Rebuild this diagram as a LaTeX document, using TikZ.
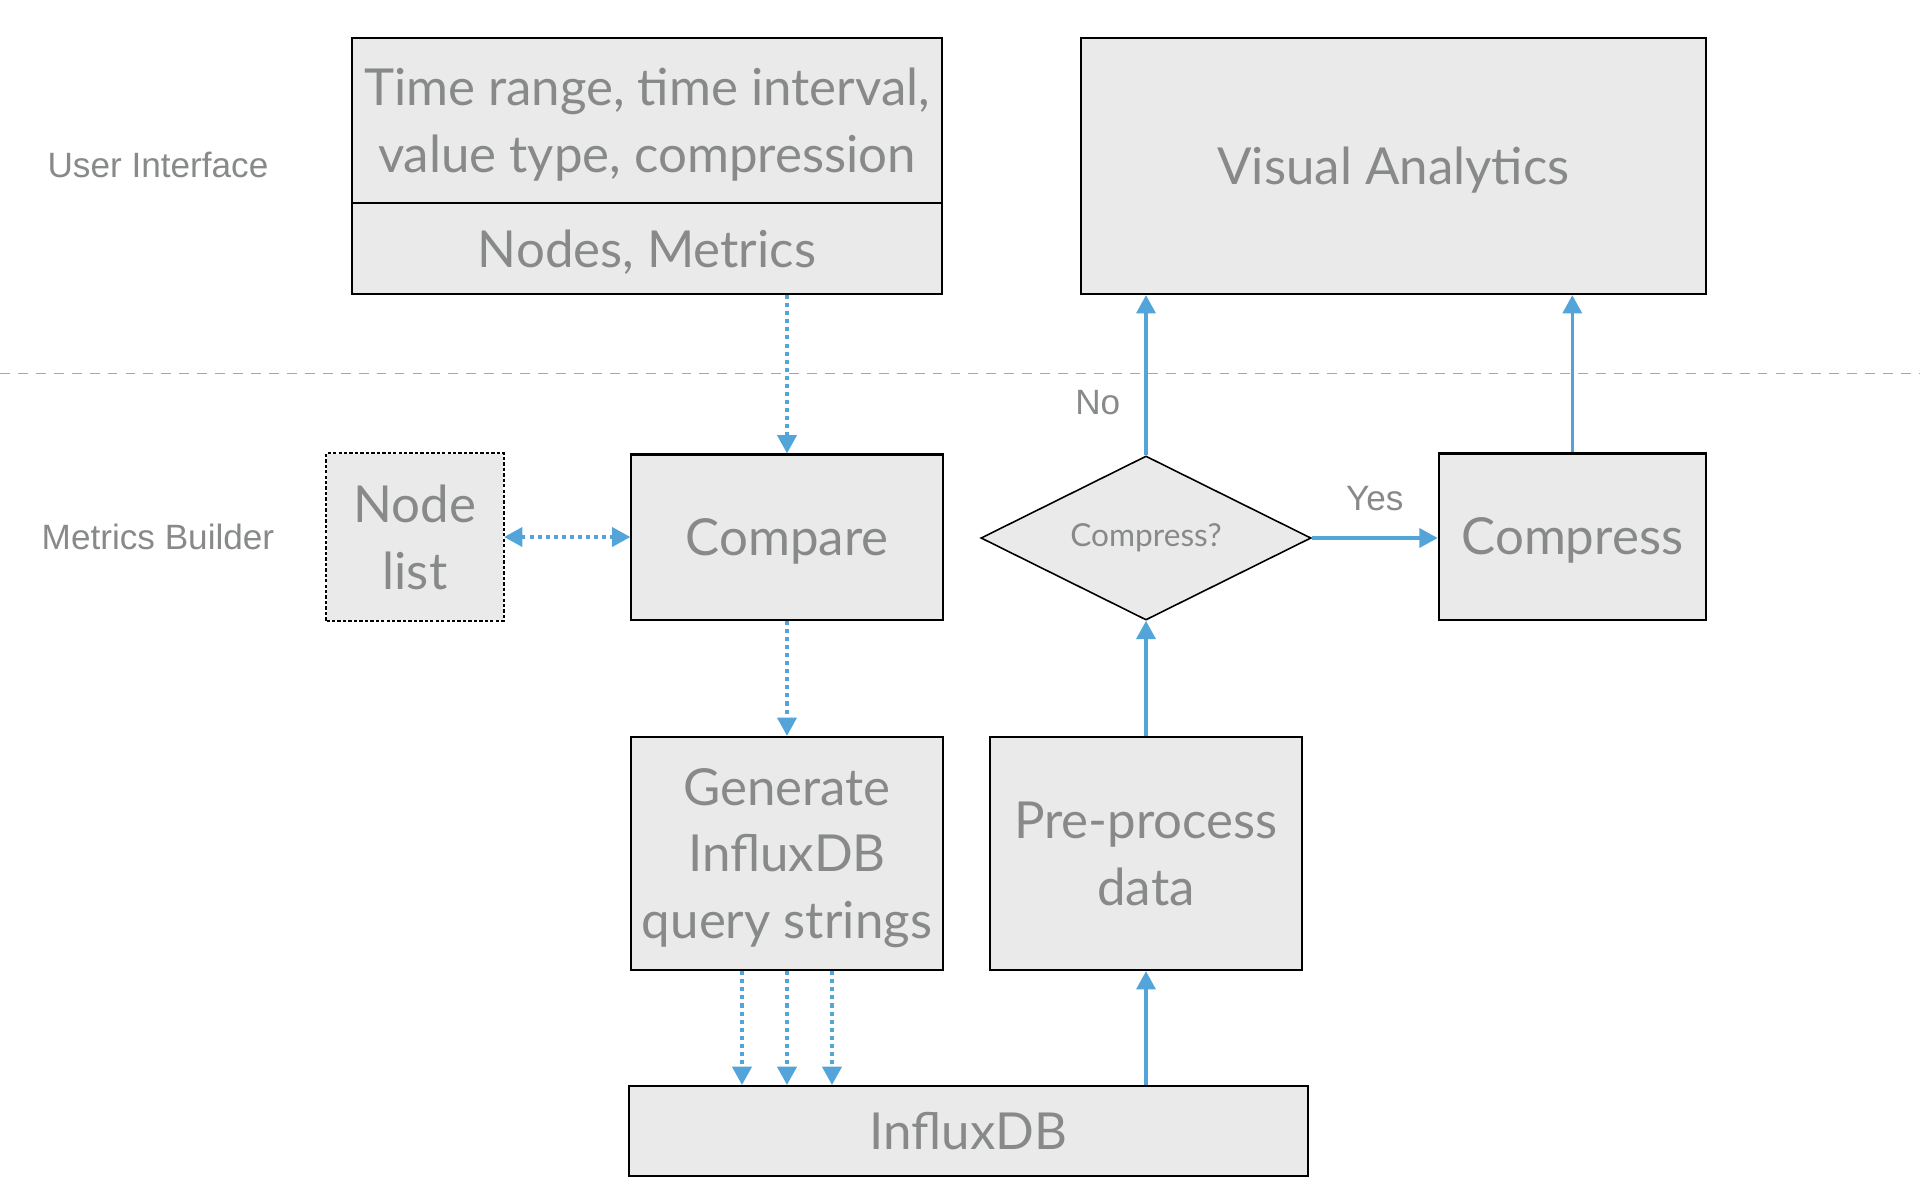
\documentclass[tikz,border=0pt]{standalone}
\usepackage{fontspec}
\usepackage{tikz}
\usetikzlibrary{arrows.meta,positioning,shapes.geometric}
\newfontfamily\boxfont{Lato}
\newfontfamily\labelfont{Liberation Sans}
\definecolor{boxgray}{RGB}{234,234,234}
\definecolor{txtgray}{RGB}{136,138,138}
\definecolor{flowblue}{RGB}{82,164,217}
\definecolor{sepgray}{RGB}{168,168,168}

\tikzset{
  box/.style={draw=black, line width=0.6pt, fill=boxgray, text=txtgray, align=center,
    font=\boxfont\fontsize{14.5}{19}\selectfont, inner sep=2pt, text depth=0pt},
  decision/.style={diamond, draw=black, line width=0.45pt, fill=boxgray, text=txtgray,
    font=\boxfont\fontsize{9}{11}\selectfont, inner sep=0pt, aspect=2},
  layer/.style={text=txtgray, font=\labelfont\fontsize{10}{12}\selectfont},
  flow/.style={draw=flowblue, line width=1pt, -{Triangle[length=5.2pt,width=5.4pt]}},
  query/.style={flow, line width=1.1pt, dash pattern=on 1.15pt off 1.15pt},
}

\begin{document}
\begin{tikzpicture}[x=0.01cm, y=-0.01cm]
\useasboundingbox (0,0) rectangle (1920,1202);
% user interface layer
\node[layer] (uilabel) at (158,165) {User Interface};
\node[box, minimum width=5.9cm, minimum height=1.65cm] (params) at (647,120.5) {Time range, time interval,\\value type, compression};
\node[box, minimum width=5.9cm, minimum height=0.906cm] (nodesmetrics) at (647,248.6) {Nodes, Metrics};
\node[box, minimum width=6.245cm, minimum height=2.56cm] (visual) at (1393.5,166) {Visual Analytics};
% layer separator
\draw[sepgray, line width=0.55pt, dash pattern=on 2.8pt off 2.3pt] (0,373.5) -- (1920,373.5);
% metrics builder layer
\node[layer] (mblabel) at (158,536.5) {Metrics Builder};
\node[box, draw=none, minimum width=1.76cm, minimum height=1.65cm] (nodelist) at (415,537) {Node\\list};
\draw[black, line width=0.55pt, dash pattern=on 0.95pt off 0.6pt] (nodelist.south west) rectangle (nodelist.north east);
\node[box, minimum width=3.11cm, minimum height=1.65cm] (compare) at (787,537) {Compare};
\node[decision, minimum width=3.3cm, minimum height=1.64cm] (compress?) at (1146,538) {Compress?};
\node[box, minimum width=2.67cm, minimum height=1.66cm] (compress) at (1572.3,536.5) {Compress};
\node[box, minimum width=3.11cm, minimum height=2.33cm] (generate) at (787,853.5) {Generate\\InfluxDB\\query strings};
\node[box, minimum width=3.11cm, minimum height=2.33cm] (preproc) at (1146,853.5) {Pre-process\\data};
\node[box, minimum width=6.78cm, minimum height=0.895cm] (influx) at (968.6,1130.8) {InfluxDB};
% queries
\draw[query] (nodesmetrics.south -| compare) -- (compare.north);
\draw[query, {Triangle[length=5.2pt,width=5.4pt]}-{Triangle[length=5.2pt,width=5.4pt]}] (nodelist.east) -- (compare.west);
\draw[query] (compare.south) -- (generate.north);
\foreach \dx in {-45,0,45}
  \draw[query] ([xshift=\dx*0.01cm]generate.south) -- ([xshift=\dx*0.01cm]generate.south |- influx.north);
% data
\draw[flow] (influx.north -| preproc) -- (preproc.south);
\draw[flow] (preproc.north) -- (compress?.south);
\draw[flow] (compress?.north) -- (visual.south -| compress?) node[layer, pos=0.33, left=3.5pt] {No};
\draw[flow] (compress?.east) -- (compress?.east -| compress.west) node[layer, midway, above=4pt] {Yes};
\draw[flow] (compress.north) -- (visual.south -| compress);
\end{tikzpicture}
\end{document}
